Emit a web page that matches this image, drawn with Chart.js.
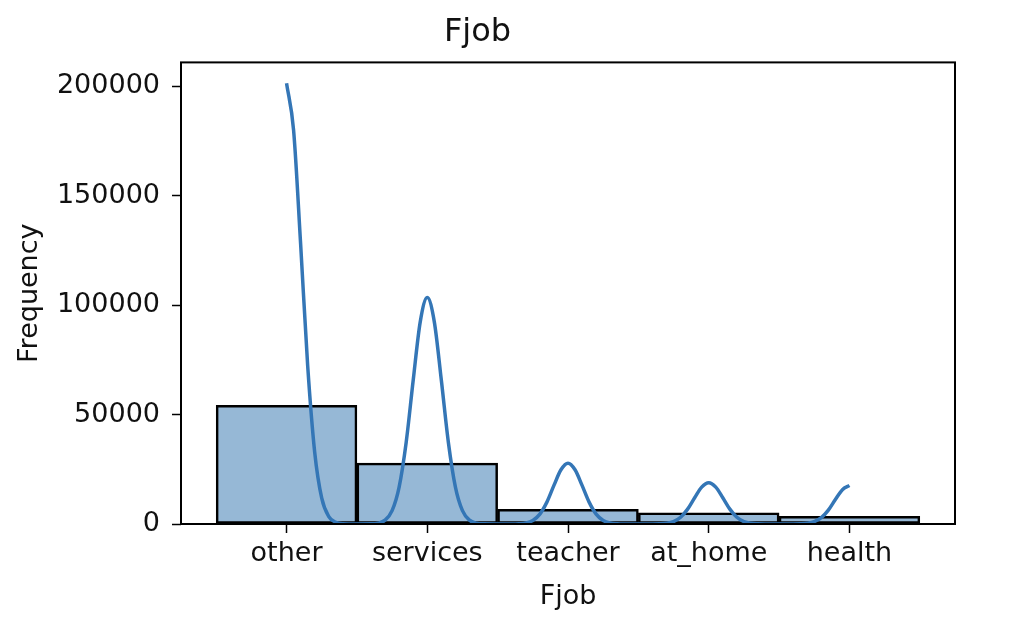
<!DOCTYPE html>
<html>
<head>
<meta charset="utf-8">
<script src="https://cdn.jsdelivr.net/npm/chart.js@4/dist/chart.umd.min.js"></script>
<style>
  body { margin: 0; background: #fff; }
  #wrap { width: 1020px; height: 638px; }
</style>
</head>
<body>
<div id="wrap"><canvas id="chart"></canvas></div>
<script>
// categories and histogram counts
const categories = ['other', 'services', 'teacher', 'at_home', 'health'];
const counts = [54200, 27800, 6650, 5100, 3500];

// kde curve (x in category units)
const kdeX = [
  0, 0.05, 0.1, 0.15, 0.2, 0.25, 0.3, 0.35, 0.4, 0.5,
  0.6, 0.65, 0.7, 0.75, 0.8, 0.85, 0.9, 0.95, 1, 1.05, 1.1, 1.15, 1.2, 1.25, 1.3, 1.35, 1.4, 1.5,
  1.6, 1.65, 1.7, 1.75, 1.8, 1.85, 1.9, 1.95, 2, 2.05, 2.1, 2.15, 2.2, 2.25, 2.3, 2.35, 2.4, 2.5,
  2.6, 2.65, 2.7, 2.75, 2.8, 2.85, 2.9, 2.95, 3, 3.05, 3.1, 3.15, 3.2, 3.25, 3.3, 3.35, 3.4, 3.5,
  3.6, 3.65, 3.7, 3.75, 3.8, 3.85, 3.9, 3.95, 4
];
const kdeY = [
  201500, 180000, 128000, 72500, 32800, 11800, 3400, 780, 140, 20,
  70, 400, 1750, 6100, 16900, 37300, 65700, 92400, 103500, 92400, 65700, 37300, 16900, 6100, 1750, 400, 70, 20,
  20, 110, 470, 1630, 4530, 10000, 17650, 24800, 27800, 24800, 17650, 10000, 4530, 1630, 470, 110, 20, 10,
  13, 73, 320, 1110, 3080, 6800, 12000, 16880, 18900, 16880, 12000, 6800, 3080, 1110, 320, 73, 13, 10,
  12, 68, 300, 1035, 2870, 6340, 11200, 15700, 17600
];

const yTicks = [0, 50000, 100000, 150000, 200000];

const font = 'DejaVu Sans';
const ink = '#111';

// matplotlib style box around the plot
const boxPlugin = {
  id: 'box',
  afterDraw(chart) {
    const {ctx, chartArea: a} = chart;
    ctx.save();
    ctx.strokeStyle = '#000';
    ctx.lineWidth = 2;
    ctx.strokeRect(a.left, a.top, a.right - a.left, a.bottom - a.top);
    ctx.restore();
  }
};

new Chart(document.getElementById('chart'), {
  data: {
    datasets: [
      {
        type: 'line',
        data: kdeX.map((x, i) => ({x: x, y: kdeY[i]})),
        borderColor: 'rgb(52,118,182)',
        borderWidth: 3.5,
        pointRadius: 0,
        fill: false,
        cubicInterpolationMode: 'monotone',
        order: 0
      },
      {
        type: 'bar',
        data: counts.map((v, i) => ({x: i, y: v})),
        backgroundColor: 'rgb(150,184,214)',
        borderColor: '#000',
        borderWidth: 2.5,
        borderSkipped: false,
        barPercentage: 1,
        categoryPercentage: 1,
        order: 1
      }
    ]
  },
  options: {
    responsive: true,
    maintainAspectRatio: false,
    animation: false,
    layout: { padding: { left: 0, right: 65, top: 0, bottom: 0 } },
    plugins: {
      legend: { display: false },
      tooltip: { enabled: false },
      title: {
        display: true,
        text: 'Fjob',
        color: ink,
        font: { family: font, size: 32, weight: 'normal' },
        padding: { top: 13, bottom: 11 }
      }
    },
    scales: {
      x: {
        type: 'linear',
        min: -0.75,
        max: 4.75,
        offset: false,
        afterBuildTicks: (s) => { s.ticks = categories.map((c, i) => ({value: i})); },
        afterFit: (s) => { s.height = 114; },
        grid: { offset: false, drawOnChartArea: false, drawTicks: true, tickLength: 9, tickWidth: 1.5, tickColor: '#000' },
        border: { display: false },
        ticks: {
          color: ink,
          padding: 5,
          font: { family: font, size: 27 },
          callback: (v) => categories[v]
        },
        title: {
          display: true,
          text: 'Fjob',
          color: ink,
          font: { family: font, size: 27 },
          padding: { top: 0, bottom: 25 }
        }
      },
      y: {
        min: 0,
        max: 211000,
        afterBuildTicks: (s) => { s.ticks = yTicks.map(v => ({value: v})); },
        afterFit: (s) => { s.width = 181; },
        grid: { drawOnChartArea: false, drawTicks: true, tickLength: 9, tickWidth: 1.5, tickColor: '#000' },
        border: { display: false },
        ticks: {
          color: ink,
          padding: 12,
          font: { family: font, size: 27 },
          callback: (v) => String(v)
        },
        title: {
          display: true,
          text: 'Frequency',
          color: ink,
          font: { family: font, size: 27 },
          padding: { top: 14, bottom: 0 }
        }
      }
    }
  },
  plugins: [boxPlugin]
});
</script>
</body>
</html>
